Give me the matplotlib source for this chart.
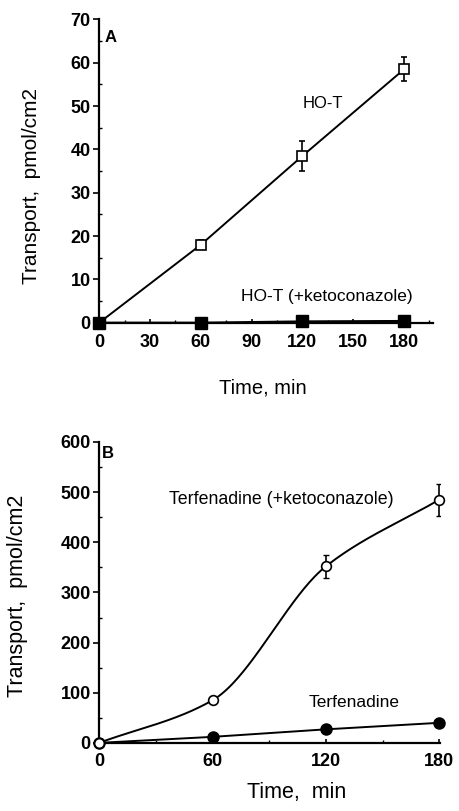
import numpy as np
import matplotlib.pyplot as plt
from matplotlib.ticker import MultipleLocator

plt.rcParams['font.family'] = ['Liberation Sans', 'DejaVu Sans']

# Panel A data
time_a = [0, 60, 120, 180]
hot = [0, 18, 38.5, 58.5]
hot_err = [0, 1.0, 3.5, 2.8]
hot_keto = [0, 0, 0.3, 0.4]

# Panel B data
time_b = [0, 60, 120, 180]
terf_keto = [0, 85, 352, 485]
terf_keto_err = [0, 4, 23, 32]
terf = [0, 12, 27, 40]


def smooth(x, y, n=200):
    # monotone cubic (PCHIP) through the measured points, for drawing the curve only
    x = np.asarray(x, float)
    y = np.asarray(y, float)
    h = np.diff(x)
    d = np.diff(y) / h
    m = np.zeros_like(y)
    for k in range(1, len(x) - 1):
        if d[k - 1] * d[k] > 0:
            w1 = 2 * h[k] + h[k - 1]
            w2 = h[k] + 2 * h[k - 1]
            m[k] = (w1 + w2) / (w1 / d[k - 1] + w2 / d[k])
    m[0] = d[0]
    m[-1] = d[-1]
    xs = np.linspace(x[0], x[-1], n)
    idx = np.clip(np.searchsorted(x, xs) - 1, 0, len(x) - 2)
    t = (xs - x[idx]) / h[idx]
    h00 = 2 * t**3 - 3 * t**2 + 1
    h10 = t**3 - 2 * t**2 + t
    h01 = -2 * t**3 + 3 * t**2
    h11 = t**3 - t**2
    ys = h00 * y[idx] + h10 * h[idx] * m[idx] + h01 * y[idx + 1] + h11 * h[idx] * m[idx + 1]
    return xs, ys


fig = plt.figure(figsize=(4.59, 8.11), dpi=100)
ax1 = fig.add_axes([0.216, 0.602, 0.727, 0.374])
ax2 = fig.add_axes([0.216, 0.084, 0.743, 0.371])

# Panel A
ax1.plot(time_a, hot, color='black', lw=1.4, zorder=2)
ax1.errorbar(time_a[1:], hot[1:], yerr=hot_err[1:], fmt='s', mfc='white', mec='black',
             ms=7, mew=1.2, ecolor='black', elinewidth=1.2, capsize=2.5, zorder=3)
ax1.plot(time_a, hot_keto, color='black', lw=1.6, marker='s', ms=8, mfc='black',
         mec='black', zorder=4, clip_on=False)
ax1.set_xlim(0, 197)
ax1.set_ylim(0, 70)
ax1.set_xticks([0, 30, 60, 90, 120, 150, 180])
ax1.set_yticks(range(0, 71, 10))
ax1.xaxis.set_minor_locator(MultipleLocator(15))
ax1.yaxis.set_minor_locator(MultipleLocator(5))
ax1.text(7, 65.8, 'A', fontsize=12, fontweight='bold', ha='center', va='center')
ax1.text(132, 50.5, 'HO-T', fontsize=12, ha='center', va='center')
ax1.text(134.5, 6, 'HO-T (+ketoconazole)', fontsize=12.5, ha='center', va='center')
ax1.set_ylabel('Transport,  pmol/cm2', fontsize=15)
ax1.yaxis.set_label_coords(-0.175, 0.45)
ax1.set_xlabel('Time, min', fontsize=14.5)
ax1.xaxis.set_label_coords(0.49, -0.185)

# Panel B
xs, ys = smooth(time_b, terf_keto)
ax2.plot(xs, ys, color='black', lw=1.4, zorder=2)
ax2.errorbar(time_b[2:], terf_keto[2:], yerr=terf_keto_err[2:], fmt='none',
             ecolor='black', elinewidth=1.2, capsize=2.5, zorder=3)
ax2.plot(time_b, terf_keto, ls='none', marker='o', ms=7, mfc='white', mec='black',
         mew=1.2, zorder=5, clip_on=False)
ax2.plot(time_b, terf, color='black', lw=1.4, marker='o', ms=8, mfc='black',
         mec='black', zorder=4, clip_on=False)
ax2.set_xlim(0, 180.5)
ax2.set_ylim(0, 600)
ax2.set_xticks([0, 60, 120, 180])
ax2.set_yticks(range(0, 601, 100))
ax2.xaxis.set_minor_locator(MultipleLocator(30))
ax2.yaxis.set_minor_locator(MultipleLocator(50))
ax2.text(4.5, 578, 'B', fontsize=12, fontweight='bold', ha='center', va='center')
ax2.text(96.5, 486, 'Terfenadine (+ketoconazole)', fontsize=12.8, ha='center', va='center')
ax2.text(135, 80, 'Terfenadine', fontsize=12.5, ha='center', va='center')
ax2.set_ylabel('Transport,  pmol/cm2', fontsize=15.5)
ax2.yaxis.set_label_coords(-0.21, 0.49)
ax2.set_xlabel('Time,  min', fontsize=15.5)
ax2.xaxis.set_label_coords(0.58, -0.13)

for ax, xpad in ((ax1, 8), (ax2, 7)):
    for side in ('top', 'right'):
        ax.spines[side].set_visible(False)
    ax.spines['left'].set_linewidth(1.6)
    ax.spines['bottom'].set_linewidth(1.6)
    ax.tick_params(axis='both', which='major', length=4, width=1.2, direction='out', pad=2)
    ax.tick_params(axis='both', which='minor', length=2, width=1.0, direction='in')
    ax.tick_params(axis='x', which='major', direction='in', length=3, pad=xpad)
    for lab in ax.get_xticklabels() + ax.get_yticklabels():
        lab.set_fontsize(13)
        lab.set_fontweight('bold')

fig.savefig('out.png', dpi=100)
